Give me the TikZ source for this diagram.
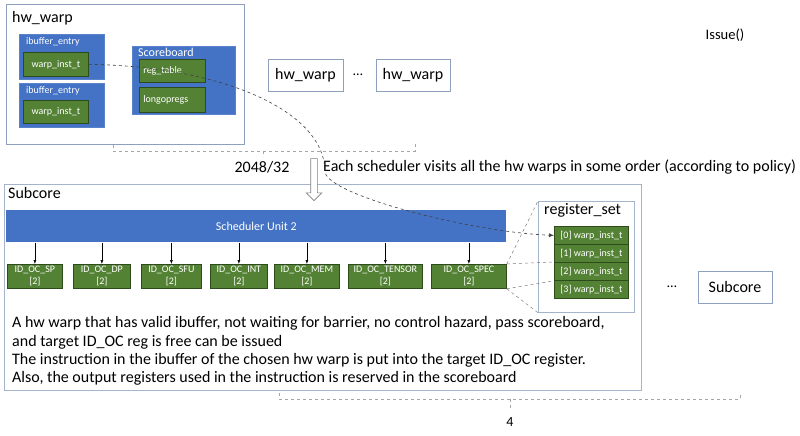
\documentclass[tikz,border=0pt]{standalone}
\usepackage{fontspec}
\setmainfont{Carlito}
\usepackage{tikz}
\usetikzlibrary{positioning,arrows.meta,shapes.arrows}

\definecolor{pptblue}{HTML}{4472C4}
\definecolor{blueline}{HTML}{5B83CC}
\definecolor{pptgreen}{HTML}{548235}
\definecolor{greenline}{HTML}{2E4B1C}
\definecolor{boxline}{HTML}{8EA0BE}
\definecolor{dashgray}{HTML}{7F7F7F}
\definecolor{bracegray}{HTML}{A6A6A6}

\newcommand{\fsz}[1]{\fontsize{#1}{\fpeval{#1*1.2}}\selectfont}

\begin{document}
\begin{tikzpicture}[x=1pt,y=-1pt,
   wbox/.style={draw=boxline, fill=white, line width=0.8pt, anchor=north west, inner sep=0pt},
   bbox/.style={draw=blueline, fill=pptblue, line width=0.6pt, anchor=north west, inner sep=0pt},
   gbox/.style={draw=greenline, fill=pptgreen, line width=0.8pt, text=white, font=\fsz{10}, inner sep=0pt},
   title/.style={anchor=west, inner sep=0pt, font=\fsz{16}},
   wtitle/.style={anchor=west, inner sep=0pt, text=white},
   zoomline/.style={dashed, dashgray, line width=0.5pt},
   brace/.style={dashed, bracegray, line width=0.6pt},
   ocbox/.style={gbox, minimum height=24pt, align=center, anchor=north west}]
   \useasboundingbox (0,0) rectangle (800,436);

   % one hw warp
   \node[wbox, minimum width=238pt, minimum height=140pt] (hw1) at (6,4) {};
   \node[title] at (12,18) {hw\_warp};
   \node[bbox, minimum width=85pt, minimum height=45pt] (ib1) at (19,34) {};
   \node[wtitle, font=\fsz{10}] at (26,42) {ibuffer\_entry};
   \node[gbox, minimum width=65pt, minimum height=24pt, anchor=north west] (inst1) at (23,52) {warp\_inst\_t};
   \node[bbox, minimum width=85pt, minimum height=44pt] (ib2) at (19,83) {};
   \node[wtitle, font=\fsz{10}] at (26,91) {ibuffer\_entry};
   \node[gbox, minimum width=65pt, minimum height=23pt, anchor=north west] (inst2) at (23,100) {warp\_inst\_t};
   \node[bbox, minimum width=103pt, minimum height=68pt] (score) at (132,46) {};
   \node[wtitle, font=\fsz{12}] at (138,52) {Scoreboard};
   \node[gbox, text width=58pt, minimum height=23pt, inner xsep=4pt, align=left, anchor=north west] (regtab) at (139,59) {reg\_table};
   \node[gbox, text width=58pt, minimum height=25pt, inner xsep=4pt, align=left, anchor=north west] (longop) at (139,87) {longopregs};

   % the other hw warps
   \node[wbox, minimum width=75pt, minimum height=32pt, font=\fsz{16}, anchor=center] (hw2) at (305.5,75) {hw\_warp};
   \node[font=\fsz{14}] (dots1) at (358,75) {…};
   \node[wbox, minimum width=74pt, minimum height=32pt, font=\fsz{16}, anchor=center] (hw3) at (413,75) {hw\_warp};
   \node[font=\fsz{14.5}] (issue) at (725,35) {Issue()};

   \draw[brace] (113,145) -- (113,151) -- (415,151) -- (415,143);
   \draw[brace] (263,151) -- (263,157);
   \node[font=\fsz{16}] (count1) at (262,167) {2048/32};
   \node[font=\fsz{16}, anchor=west, inner sep=0pt] (visit) at (323,167) {Each scheduler visits all the hw warps in some order (according to policy)};

   % subcore
   \node[wbox, draw=boxline!80, minimum width=637pt, minimum height=206pt] (sub) at (4,184) {};
   \node[title] at (8,193) {Subcore};
   \node[single arrow, draw=dashgray, fill=white, line width=0.6pt, rotate=-90, minimum height=42pt,
         minimum width=15pt, single arrow head extend=4.5pt, inner sep=3pt] (down) at (314,178) {};
   \node[bbox, minimum width=500pt, minimum height=32pt, draw=none] (sched) at (6,210) {};
   \node[text=white, font=\fsz{12}] at (sched.center) {Scheduler Unit 2};

   \node[ocbox, minimum width=55pt] (sp)  at (7,264)   {ID\_OC\_SP\\{}[2]};
   \node[ocbox, minimum width=57pt] (dp)  at (73,264)  {ID\_OC\_DP\\{}[2]};
   \node[ocbox, minimum width=60pt] (sfu) at (141,264) {ID\_OC\_SFU\\{}[2]};
   \node[ocbox, minimum width=57pt] (int) at (210,264) {ID\_OC\_INT\\{}[2]};
   \node[ocbox, minimum width=65pt] (mem) at (274,264) {ID\_OC\_MEM\\{}[2]};
   \node[ocbox, minimum width=74pt] (ten) at (348,264) {ID\_OC\_TENSOR\\{}[2]};
   \node[ocbox, minimum width=75pt] (spec) at (431,264) {ID\_OC\_SPEC\\{}[2]};
   \foreach \oc in {sp,dp,sfu,int,mem,ten,spec}
      \draw[-{Latex[length=4pt,width=3pt]}, line width=0.5pt] (sched.south -| \oc.north) -- (\oc.north);

   % register set
   \node[wbox, draw=boxline!80, minimum width=96pt, minimum height=111pt] (regset) at (538,201) {};
   \node[title] at (544,210) {register\_set};
   \foreach \i in {0,...,3}
      \node[gbox, minimum width=74pt, minimum height=18pt, anchor=north west] (r\i) at (554,226+18*\i) {[\i] warp\_inst\_t};

   \draw[zoomline] (spec.north east) -- (regset.north west);
   \draw[zoomline] (spec.south east) -- (regset.south west);
   \draw[zoomline] (spec.north east) -- (r2.north west);
   \draw[zoomline] (spec.south east) -- (r2.south west);

   \coordinate (bend) at (325,172);
   \draw[dashed, line width=0.6pt, black!75, -{Latex[length=5pt,width=4pt]}]
      (inst1.east) .. controls (220,66) and (325,110) .. (bend)
      .. controls (328,195) and (470,232) .. (r0.west);

   % other subcores
   \node[font=\fsz{14}] (dots2) at (672,287) {…};
   \node[wbox, minimum width=74pt, minimum height=32pt, font=\fsz{16}, anchor=center] (sub2) at (735,287) {Subcore};

   \node[anchor=west, align=left, inner sep=0pt, font=\fontsize{16}{18.3}\selectfont] (rule) at (12,351)
      {A hw warp that has valid ibuffer, not waiting for barrier, no control hazard, pass scoreboard,\\
       and target ID\_OC reg is free can be issued\\
       The instruction in the ibuffer of the chosen hw warp is put into the target ID\_OC register.\\
       Also, the output registers used in the instruction is reserved in the scoreboard};

   \draw[brace] (279,393) -- (279,399) -- (740,399) -- (740,393);
   \draw[brace] (510,399) -- (510,409);
   \node[font=\fsz{14}] (count2) at (510,422) {4};
\end{tikzpicture}
\end{document}
